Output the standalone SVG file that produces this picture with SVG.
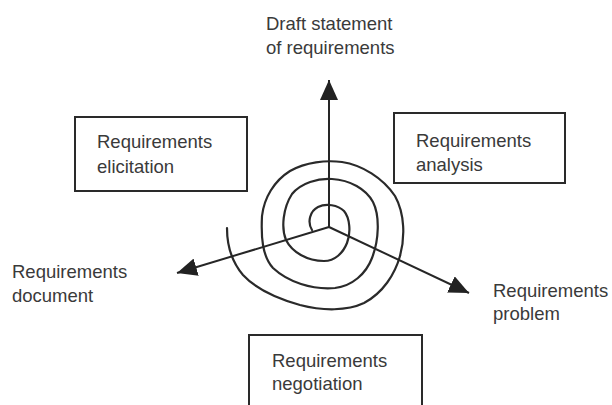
<svg xmlns="http://www.w3.org/2000/svg" width="612" height="405" viewBox="0 0 612 405">
  <style>
    .box { fill: #ffffff; stroke: #2a2a2a; stroke-width: 2; }
    .lbl { font-family: "Liberation Sans", Arial, sans-serif; font-size: 18.5px; fill: #3a3a3a; }
    .ln { stroke: #262626; stroke-width: 2; fill: none; }
    .spiral { stroke: #2a2a2a; stroke-width: 2.2; fill: none; stroke-linejoin: round; stroke-linecap: round; }
  </style>
  <defs>
    <marker id="head" viewBox="0 0 20 18" refX="20" refY="9" markerWidth="20" markerHeight="18" markerUnits="userSpaceOnUse" orient="auto">
      <path d="M0,0 L20,9 L0,18 Z" fill="#222222"/>
    </marker>
  </defs>
  <rect width="612" height="405" fill="#ffffff"/>

  <g id="spiral">
    <path class="spiral" d="M312,230 C307,222 310,211 318,207 C326,203 338,205 344,211 C350,218 351,233 347,243 C343,253 335,261 324,261 C307,261 292,252 286,240 C281,228 283,208 292,194 C301,183 318,178 332,179 C350,180 366,189 373,202 C380,216 379,240 372,258 C366,274 352,286 335,288 C312,290 288,282 273,268 C262,256 261,236 262,216 C264,198 274,181 290,171 C306,162 326,160 342,162 C362,165 383,178 395,196 C405,214 405,238 400,256 C395,274 383,293 364,303 C347,311 323,311 300,305 C279,299 256,289 243,275 C232,262 227,246 227,228"/>
  </g>

  <g id="connectors">
    <line class="ln" x1="329" y1="227" x2="329" y2="80" marker-end="url(#head)"/>
    <line class="ln" x1="329" y1="227" x2="177" y2="273" marker-end="url(#head)"/>
    <line class="ln" x1="329" y1="227" x2="469" y2="293" marker-end="url(#head)"/>
  </g>

  <g id="draft-statement">
    <text class="lbl" x="266" y="30">Draft statement</text>
    <text class="lbl" x="266" y="54">of requirements</text>
  </g>

  <g id="elicitation">
    <rect class="box" x="75" y="117" width="172" height="74"/>
    <text class="lbl" x="97" y="148">Requirements</text>
    <text class="lbl" x="97" y="173">elicitation</text>
  </g>

  <g id="analysis">
    <rect class="box" x="394" y="113" width="171" height="70"/>
    <text class="lbl" x="416" y="147">Requirements</text>
    <text class="lbl" x="416" y="171">analysis</text>
  </g>

  <g id="document">
    <text class="lbl" x="12" y="278">Requirements</text>
    <text class="lbl" x="12" y="302">document</text>
  </g>

  <g id="problem">
    <text class="lbl" x="493" y="297">Requirements</text>
    <text class="lbl" x="493" y="320">problem</text>
  </g>

  <g id="negotiation">
    <rect class="box" x="249" y="335" width="173" height="75"/>
    <text class="lbl" x="272" y="367">Requirements</text>
    <text class="lbl" x="272" y="390">negotiation</text>
  </g>
</svg>
